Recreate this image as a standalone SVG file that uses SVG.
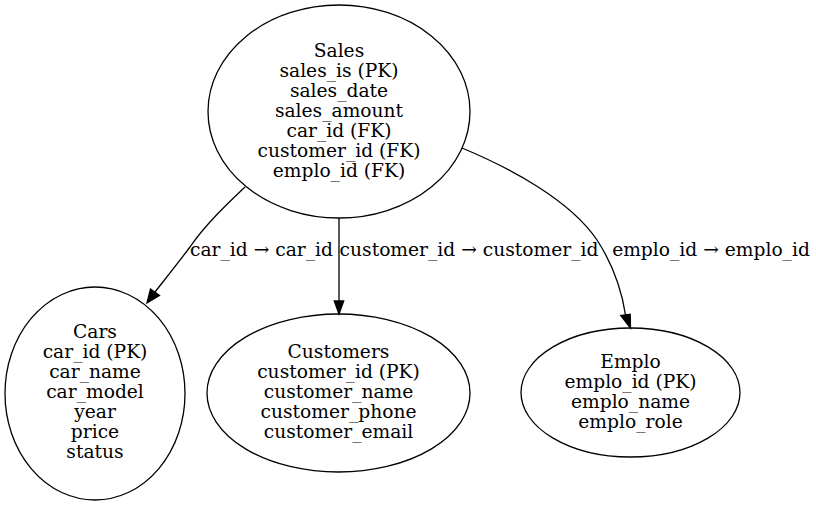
<svg xmlns="http://www.w3.org/2000/svg" width="816" height="505" viewBox="0 0 816 505">
<style>
text{font-family:"DejaVu Serif","Liberation Serif",serif;font-size:18.67px;fill:#000;text-anchor:middle}
ellipse{fill:none;stroke:#000;stroke-width:1.3}
.e{fill:none;stroke:#000;stroke-width:1.3}
.ah{fill:#000;stroke:#000;stroke-width:1.3}
</style>
<rect width="816" height="505" fill="#fff"/>
<g id="sales">
<ellipse cx="339" cy="111.5" rx="131" ry="106.5"/>
<text x="339" y="57">Sales</text>
<text x="339" y="77">sales_is (PK)</text>
<text x="339" y="97">sales_date</text>
<text x="339" y="117">sales_amount</text>
<text x="339" y="137">car_id (FK)</text>
<text x="339" y="157">customer_id (FK)</text>
<text x="339" y="177">emplo_id (FK)</text>
</g>
<g id="cars">
<ellipse cx="95" cy="393.5" rx="90" ry="106.5"/>
<text x="95" y="338">Cars</text>
<text x="95" y="358">car_id (PK)</text>
<text x="95" y="378">car_name</text>
<text x="95" y="398">car_model</text>
<text x="95" y="418">year</text>
<text x="95" y="438">price</text>
<text x="95" y="458">status</text>
</g>
<g id="customers">
<ellipse cx="338.5" cy="393" rx="131.5" ry="79"/>
<text x="338.5" y="358">Customers</text>
<text x="338.5" y="378">customer_id (PK)</text>
<text x="338.5" y="398">customer_name</text>
<text x="338.5" y="418">customer_phone</text>
<text x="338.5" y="438">customer_email</text>
</g>
<g id="emplo">
<ellipse cx="630.5" cy="392.5" rx="109.5" ry="64.5"/>
<text x="630.5" y="368">Emplo</text>
<text x="630.5" y="388">emplo_id (PK)</text>
<text x="630.5" y="408">emplo_name</text>
<text x="630.5" y="428">emplo_role</text>
</g>
<g id="connectors">
<path class="e" d="M245,187 C226,205 205,225 190,247 C178,263 166,278 155,292"/>
<polygon class="ah" points="159.5,295.5 147,303 150.5,289"/>
<text x="261.5" y="256">car_id → car_id</text>
<path class="e" d="M339,218 L339,301"/>
<polygon class="ah" points="334.3,301 339,314 343.7,301"/>
<text x="469" y="256">customer_id → customer_id</text>
<path class="e" d="M462,148 C510,168 570,200 597,240 C614,266 622,292 625.5,315"/>
<polygon class="ah" points="620.8,315.5 630.5,328 630.2,314.3"/>
<text x="711" y="256">emplo_id → emplo_id</text>
</g>
</svg>
